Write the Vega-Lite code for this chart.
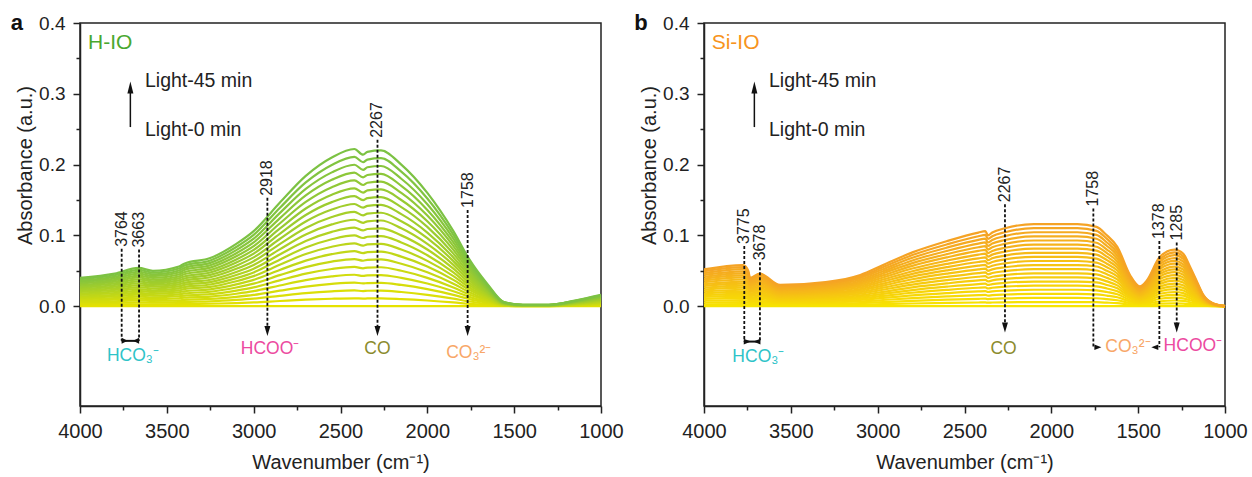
{
"$schema":"https://vega.github.io/schema/vega-lite/v6.json",
"background":"white",
"padding":{"left":10,"top":11,"right":5,"bottom":5},
"spacing":9,
"config":{
"view":{"stroke":"#222","strokeWidth":1.5},
"font":"Liberation Sans",
"axis":{"domainColor":"#222","domainWidth":1.5,"tickColor":"#222","tickWidth":1.5,"labelColor":"#222","titleColor":"#222","labelFont":"Liberation Sans","titleFont":"Liberation Sans","titleFontWeight":"normal","grid":false,"labelFlush":false,"labelOverlap":false},
"axisX":{"labelFontSize":20,"titleFontSize":20,"labelPadding":8,"titlePadding":11},
"axisY":{"labelFontSize":19,"titleFontSize":20,"labelPadding":8,"titlePadding":3,"titleY":142}
},
"resolve":{"scale":{"x":"independent","y":"independent","stroke":"independent","color":"independent"}},
"datasets":{
"aL":[
{"k":0,"x":4000,"y":0},{"k":0,"x":1000,"y":0},
{"k":1,"x":4000,"y":0.002},{"k":1,"x":3800,"y":0.0023},{"k":1,"x":3663,"y":0.0027},{"k":1,"x":3580,"y":0.0025},{"k":1,"x":3430,"y":0.0028},{"k":1,"x":3400,"y":0.003},{"k":1,"x":3250,"y":0.0034},{"k":1,"x":3100,"y":0.0044},{"k":1,"x":3000,"y":0.0053},{"k":1,"x":2850,"y":0.0073},{"k":1,"x":2700,"y":0.0092},{"k":1,"x":2550,"y":0.0105},{"k":1,"x":2420,"y":0.0111},{"k":1,"x":2370,"y":0.0107},{"k":1,"x":2345,"y":0.0109},{"k":1,"x":2267,"y":0.011},{"k":1,"x":2150,"y":0.01},{"k":1,"x":2000,"y":0.008},{"k":1,"x":1850,"y":0.0053},{"k":1,"x":1758,"y":0.0033},{"k":1,"x":1650,"y":0.0015},{"k":1,"x":1560,"y":0.0003},{"k":1,"x":1450,"y":0.0001},{"k":1,"x":1300,"y":0.0001},{"k":1,"x":1150,"y":0.0004},{"k":1,"x":1000,"y":0.0008},
{"k":2,"x":4000,"y":0.004},{"k":2,"x":3800,"y":0.0046},{"k":2,"x":3663,"y":0.0054},{"k":2,"x":3580,"y":0.005},{"k":2,"x":3430,"y":0.0056},{"k":2,"x":3400,"y":0.006},{"k":2,"x":3250,"y":0.0068},{"k":2,"x":3100,"y":0.0088},{"k":2,"x":3000,"y":0.0106},{"k":2,"x":2850,"y":0.0146},{"k":2,"x":2700,"y":0.0184},{"k":2,"x":2550,"y":0.021},{"k":2,"x":2420,"y":0.0222},{"k":2,"x":2370,"y":0.0214},{"k":2,"x":2345,"y":0.0218},{"k":2,"x":2267,"y":0.022},{"k":2,"x":2150,"y":0.02},{"k":2,"x":2000,"y":0.016},{"k":2,"x":1850,"y":0.0106},{"k":2,"x":1758,"y":0.0066},{"k":2,"x":1650,"y":0.003},{"k":2,"x":1560,"y":0.0006},{"k":2,"x":1450,"y":0.0002},{"k":2,"x":1300,"y":0.0002},{"k":2,"x":1150,"y":0.0008},{"k":2,"x":1000,"y":0.0016},
{"k":3,"x":4000,"y":0.006},{"k":3,"x":3800,"y":0.0069},{"k":3,"x":3663,"y":0.0081},{"k":3,"x":3580,"y":0.0075},{"k":3,"x":3430,"y":0.0084},{"k":3,"x":3400,"y":0.009},{"k":3,"x":3250,"y":0.0102},{"k":3,"x":3100,"y":0.0132},{"k":3,"x":3000,"y":0.0159},{"k":3,"x":2850,"y":0.0219},{"k":3,"x":2700,"y":0.0276},{"k":3,"x":2550,"y":0.0315},{"k":3,"x":2420,"y":0.0333},{"k":3,"x":2370,"y":0.0321},{"k":3,"x":2345,"y":0.0327},{"k":3,"x":2267,"y":0.033},{"k":3,"x":2150,"y":0.03},{"k":3,"x":2000,"y":0.024},{"k":3,"x":1850,"y":0.0159},{"k":3,"x":1758,"y":0.0099},{"k":3,"x":1650,"y":0.0045},{"k":3,"x":1560,"y":0.0009},{"k":3,"x":1450,"y":0.0003},{"k":3,"x":1300,"y":0.0003},{"k":3,"x":1150,"y":0.0012},{"k":3,"x":1000,"y":0.0024},
{"k":4,"x":4000,"y":0.008},{"k":4,"x":3800,"y":0.0092},{"k":4,"x":3663,"y":0.0108},{"k":4,"x":3580,"y":0.01},{"k":4,"x":3430,"y":0.0112},{"k":4,"x":3400,"y":0.012},{"k":4,"x":3250,"y":0.0136},{"k":4,"x":3100,"y":0.0176},{"k":4,"x":3000,"y":0.0212},{"k":4,"x":2850,"y":0.0292},{"k":4,"x":2700,"y":0.0368},{"k":4,"x":2550,"y":0.042},{"k":4,"x":2420,"y":0.0444},{"k":4,"x":2370,"y":0.0428},{"k":4,"x":2345,"y":0.0436},{"k":4,"x":2267,"y":0.044},{"k":4,"x":2150,"y":0.04},{"k":4,"x":2000,"y":0.032},{"k":4,"x":1850,"y":0.0212},{"k":4,"x":1758,"y":0.0132},{"k":4,"x":1650,"y":0.006},{"k":4,"x":1560,"y":0.0012},{"k":4,"x":1450,"y":0.0004},{"k":4,"x":1300,"y":0.0004},{"k":4,"x":1150,"y":0.0016},{"k":4,"x":1000,"y":0.0032},
{"k":5,"x":4000,"y":0.01},{"k":5,"x":3800,"y":0.0115},{"k":5,"x":3663,"y":0.0135},{"k":5,"x":3580,"y":0.0125},{"k":5,"x":3430,"y":0.014},{"k":5,"x":3400,"y":0.015},{"k":5,"x":3250,"y":0.017},{"k":5,"x":3100,"y":0.022},{"k":5,"x":3000,"y":0.0265},{"k":5,"x":2850,"y":0.0365},{"k":5,"x":2700,"y":0.046},{"k":5,"x":2550,"y":0.0525},{"k":5,"x":2420,"y":0.0555},{"k":5,"x":2370,"y":0.0535},{"k":5,"x":2345,"y":0.0545},{"k":5,"x":2267,"y":0.055},{"k":5,"x":2150,"y":0.05},{"k":5,"x":2000,"y":0.04},{"k":5,"x":1850,"y":0.0265},{"k":5,"x":1758,"y":0.0165},{"k":5,"x":1650,"y":0.0075},{"k":5,"x":1560,"y":0.0015},{"k":5,"x":1450,"y":0.0005},{"k":5,"x":1300,"y":0.0005},{"k":5,"x":1150,"y":0.002},{"k":5,"x":1000,"y":0.004},
{"k":6,"x":4000,"y":0.012},{"k":6,"x":3800,"y":0.0138},{"k":6,"x":3663,"y":0.0162},{"k":6,"x":3580,"y":0.015},{"k":6,"x":3430,"y":0.0168},{"k":6,"x":3400,"y":0.018},{"k":6,"x":3250,"y":0.0204},{"k":6,"x":3100,"y":0.0264},{"k":6,"x":3000,"y":0.0318},{"k":6,"x":2850,"y":0.0438},{"k":6,"x":2700,"y":0.0552},{"k":6,"x":2550,"y":0.063},{"k":6,"x":2420,"y":0.0666},{"k":6,"x":2370,"y":0.0642},{"k":6,"x":2345,"y":0.0654},{"k":6,"x":2267,"y":0.066},{"k":6,"x":2150,"y":0.06},{"k":6,"x":2000,"y":0.048},{"k":6,"x":1850,"y":0.0318},{"k":6,"x":1758,"y":0.0198},{"k":6,"x":1650,"y":0.009},{"k":6,"x":1560,"y":0.0018},{"k":6,"x":1450,"y":0.0006},{"k":6,"x":1300,"y":0.0006},{"k":6,"x":1150,"y":0.0024},{"k":6,"x":1000,"y":0.0048},
{"k":7,"x":4000,"y":0.014},{"k":7,"x":3800,"y":0.0161},{"k":7,"x":3663,"y":0.0189},{"k":7,"x":3580,"y":0.0175},{"k":7,"x":3430,"y":0.0196},{"k":7,"x":3400,"y":0.021},{"k":7,"x":3250,"y":0.0238},{"k":7,"x":3100,"y":0.0308},{"k":7,"x":3000,"y":0.0371},{"k":7,"x":2850,"y":0.0511},{"k":7,"x":2700,"y":0.0644},{"k":7,"x":2550,"y":0.0735},{"k":7,"x":2420,"y":0.0777},{"k":7,"x":2370,"y":0.0749},{"k":7,"x":2345,"y":0.0763},{"k":7,"x":2267,"y":0.077},{"k":7,"x":2150,"y":0.07},{"k":7,"x":2000,"y":0.056},{"k":7,"x":1850,"y":0.0371},{"k":7,"x":1758,"y":0.0231},{"k":7,"x":1650,"y":0.0105},{"k":7,"x":1560,"y":0.0021},{"k":7,"x":1450,"y":0.0007},{"k":7,"x":1300,"y":0.0007},{"k":7,"x":1150,"y":0.0028},{"k":7,"x":1000,"y":0.0056},
{"k":8,"x":4000,"y":0.016},{"k":8,"x":3800,"y":0.0184},{"k":8,"x":3663,"y":0.0216},{"k":8,"x":3580,"y":0.02},{"k":8,"x":3430,"y":0.0224},{"k":8,"x":3400,"y":0.024},{"k":8,"x":3250,"y":0.0272},{"k":8,"x":3100,"y":0.0352},{"k":8,"x":3000,"y":0.0424},{"k":8,"x":2850,"y":0.0584},{"k":8,"x":2700,"y":0.0736},{"k":8,"x":2550,"y":0.084},{"k":8,"x":2420,"y":0.0888},{"k":8,"x":2370,"y":0.0856},{"k":8,"x":2345,"y":0.0872},{"k":8,"x":2267,"y":0.088},{"k":8,"x":2150,"y":0.08},{"k":8,"x":2000,"y":0.064},{"k":8,"x":1850,"y":0.0424},{"k":8,"x":1758,"y":0.0264},{"k":8,"x":1650,"y":0.012},{"k":8,"x":1560,"y":0.0024},{"k":8,"x":1450,"y":0.0008},{"k":8,"x":1300,"y":0.0008},{"k":8,"x":1150,"y":0.0032},{"k":8,"x":1000,"y":0.0064},
{"k":9,"x":4000,"y":0.018},{"k":9,"x":3800,"y":0.0207},{"k":9,"x":3663,"y":0.0243},{"k":9,"x":3580,"y":0.0225},{"k":9,"x":3430,"y":0.0252},{"k":9,"x":3400,"y":0.027},{"k":9,"x":3250,"y":0.0306},{"k":9,"x":3100,"y":0.0396},{"k":9,"x":3000,"y":0.0477},{"k":9,"x":2850,"y":0.0657},{"k":9,"x":2700,"y":0.0828},{"k":9,"x":2550,"y":0.0945},{"k":9,"x":2420,"y":0.0999},{"k":9,"x":2370,"y":0.0963},{"k":9,"x":2345,"y":0.0981},{"k":9,"x":2267,"y":0.099},{"k":9,"x":2150,"y":0.09},{"k":9,"x":2000,"y":0.072},{"k":9,"x":1850,"y":0.0477},{"k":9,"x":1758,"y":0.0297},{"k":9,"x":1650,"y":0.0135},{"k":9,"x":1560,"y":0.0027},{"k":9,"x":1450,"y":0.0009},{"k":9,"x":1300,"y":0.0009},{"k":9,"x":1150,"y":0.0036},{"k":9,"x":1000,"y":0.0072},
{"k":10,"x":4000,"y":0.02},{"k":10,"x":3800,"y":0.023},{"k":10,"x":3663,"y":0.027},{"k":10,"x":3580,"y":0.025},{"k":10,"x":3430,"y":0.028},{"k":10,"x":3400,"y":0.03},{"k":10,"x":3250,"y":0.034},{"k":10,"x":3100,"y":0.044},{"k":10,"x":3000,"y":0.053},{"k":10,"x":2850,"y":0.073},{"k":10,"x":2700,"y":0.092},{"k":10,"x":2550,"y":0.105},{"k":10,"x":2420,"y":0.111},{"k":10,"x":2370,"y":0.107},{"k":10,"x":2345,"y":0.109},{"k":10,"x":2267,"y":0.11},{"k":10,"x":2150,"y":0.1},{"k":10,"x":2000,"y":0.08},{"k":10,"x":1850,"y":0.053},{"k":10,"x":1758,"y":0.033},{"k":10,"x":1650,"y":0.015},{"k":10,"x":1560,"y":0.003},{"k":10,"x":1450,"y":0.001},{"k":10,"x":1300,"y":0.001},{"k":10,"x":1150,"y":0.004},{"k":10,"x":1000,"y":0.008},
{"k":11,"x":4000,"y":0.022},{"k":11,"x":3800,"y":0.0253},{"k":11,"x":3663,"y":0.0297},{"k":11,"x":3580,"y":0.0275},{"k":11,"x":3430,"y":0.0308},{"k":11,"x":3400,"y":0.033},{"k":11,"x":3250,"y":0.0374},{"k":11,"x":3100,"y":0.0484},{"k":11,"x":3000,"y":0.0583},{"k":11,"x":2850,"y":0.0803},{"k":11,"x":2700,"y":0.1012},{"k":11,"x":2550,"y":0.1155},{"k":11,"x":2420,"y":0.1221},{"k":11,"x":2370,"y":0.1177},{"k":11,"x":2345,"y":0.1199},{"k":11,"x":2267,"y":0.121},{"k":11,"x":2150,"y":0.11},{"k":11,"x":2000,"y":0.088},{"k":11,"x":1850,"y":0.0583},{"k":11,"x":1758,"y":0.0363},{"k":11,"x":1650,"y":0.0165},{"k":11,"x":1560,"y":0.0033},{"k":11,"x":1450,"y":0.0011},{"k":11,"x":1300,"y":0.0011},{"k":11,"x":1150,"y":0.0044},{"k":11,"x":1000,"y":0.0088},
{"k":12,"x":4000,"y":0.024},{"k":12,"x":3800,"y":0.0276},{"k":12,"x":3663,"y":0.0324},{"k":12,"x":3580,"y":0.03},{"k":12,"x":3430,"y":0.0336},{"k":12,"x":3400,"y":0.036},{"k":12,"x":3250,"y":0.0408},{"k":12,"x":3100,"y":0.0528},{"k":12,"x":3000,"y":0.0636},{"k":12,"x":2850,"y":0.0876},{"k":12,"x":2700,"y":0.1104},{"k":12,"x":2550,"y":0.126},{"k":12,"x":2420,"y":0.1332},{"k":12,"x":2370,"y":0.1284},{"k":12,"x":2345,"y":0.1308},{"k":12,"x":2267,"y":0.132},{"k":12,"x":2150,"y":0.12},{"k":12,"x":2000,"y":0.096},{"k":12,"x":1850,"y":0.0636},{"k":12,"x":1758,"y":0.0396},{"k":12,"x":1650,"y":0.018},{"k":12,"x":1560,"y":0.0036},{"k":12,"x":1450,"y":0.0012},{"k":12,"x":1300,"y":0.0012},{"k":12,"x":1150,"y":0.0048},{"k":12,"x":1000,"y":0.0096},
{"k":13,"x":4000,"y":0.026},{"k":13,"x":3800,"y":0.0299},{"k":13,"x":3663,"y":0.0351},{"k":13,"x":3580,"y":0.0325},{"k":13,"x":3430,"y":0.0364},{"k":13,"x":3400,"y":0.039},{"k":13,"x":3250,"y":0.0442},{"k":13,"x":3100,"y":0.0572},{"k":13,"x":3000,"y":0.0689},{"k":13,"x":2850,"y":0.0949},{"k":13,"x":2700,"y":0.1196},{"k":13,"x":2550,"y":0.1365},{"k":13,"x":2420,"y":0.1443},{"k":13,"x":2370,"y":0.1391},{"k":13,"x":2345,"y":0.1417},{"k":13,"x":2267,"y":0.143},{"k":13,"x":2150,"y":0.13},{"k":13,"x":2000,"y":0.104},{"k":13,"x":1850,"y":0.0689},{"k":13,"x":1758,"y":0.0429},{"k":13,"x":1650,"y":0.0195},{"k":13,"x":1560,"y":0.0039},{"k":13,"x":1450,"y":0.0013},{"k":13,"x":1300,"y":0.0013},{"k":13,"x":1150,"y":0.0052},{"k":13,"x":1000,"y":0.0104},
{"k":14,"x":4000,"y":0.028},{"k":14,"x":3800,"y":0.0322},{"k":14,"x":3663,"y":0.0378},{"k":14,"x":3580,"y":0.035},{"k":14,"x":3430,"y":0.0392},{"k":14,"x":3400,"y":0.042},{"k":14,"x":3250,"y":0.0476},{"k":14,"x":3100,"y":0.0616},{"k":14,"x":3000,"y":0.0742},{"k":14,"x":2850,"y":0.1022},{"k":14,"x":2700,"y":0.1288},{"k":14,"x":2550,"y":0.147},{"k":14,"x":2420,"y":0.1554},{"k":14,"x":2370,"y":0.1498},{"k":14,"x":2345,"y":0.1526},{"k":14,"x":2267,"y":0.154},{"k":14,"x":2150,"y":0.14},{"k":14,"x":2000,"y":0.112},{"k":14,"x":1850,"y":0.0742},{"k":14,"x":1758,"y":0.0462},{"k":14,"x":1650,"y":0.021},{"k":14,"x":1560,"y":0.0042},{"k":14,"x":1450,"y":0.0014},{"k":14,"x":1300,"y":0.0014},{"k":14,"x":1150,"y":0.0056},{"k":14,"x":1000,"y":0.0112},
{"k":15,"x":4000,"y":0.03},{"k":15,"x":3800,"y":0.0345},{"k":15,"x":3663,"y":0.0405},{"k":15,"x":3580,"y":0.0375},{"k":15,"x":3430,"y":0.042},{"k":15,"x":3400,"y":0.045},{"k":15,"x":3250,"y":0.051},{"k":15,"x":3100,"y":0.066},{"k":15,"x":3000,"y":0.0795},{"k":15,"x":2850,"y":0.1095},{"k":15,"x":2700,"y":0.138},{"k":15,"x":2550,"y":0.1575},{"k":15,"x":2420,"y":0.1665},{"k":15,"x":2370,"y":0.1605},{"k":15,"x":2345,"y":0.1635},{"k":15,"x":2267,"y":0.165},{"k":15,"x":2150,"y":0.15},{"k":15,"x":2000,"y":0.12},{"k":15,"x":1850,"y":0.0795},{"k":15,"x":1758,"y":0.0495},{"k":15,"x":1650,"y":0.0225},{"k":15,"x":1560,"y":0.0045},{"k":15,"x":1450,"y":0.0015},{"k":15,"x":1300,"y":0.0015},{"k":15,"x":1150,"y":0.006},{"k":15,"x":1000,"y":0.012},
{"k":16,"x":4000,"y":0.032},{"k":16,"x":3800,"y":0.0368},{"k":16,"x":3663,"y":0.0432},{"k":16,"x":3580,"y":0.04},{"k":16,"x":3430,"y":0.0448},{"k":16,"x":3400,"y":0.048},{"k":16,"x":3250,"y":0.0544},{"k":16,"x":3100,"y":0.0704},{"k":16,"x":3000,"y":0.0848},{"k":16,"x":2850,"y":0.1168},{"k":16,"x":2700,"y":0.1472},{"k":16,"x":2550,"y":0.168},{"k":16,"x":2420,"y":0.1776},{"k":16,"x":2370,"y":0.1712},{"k":16,"x":2345,"y":0.1744},{"k":16,"x":2267,"y":0.176},{"k":16,"x":2150,"y":0.16},{"k":16,"x":2000,"y":0.128},{"k":16,"x":1850,"y":0.0848},{"k":16,"x":1758,"y":0.0528},{"k":16,"x":1650,"y":0.024},{"k":16,"x":1560,"y":0.0048},{"k":16,"x":1450,"y":0.0016},{"k":16,"x":1300,"y":0.0016},{"k":16,"x":1150,"y":0.0064},{"k":16,"x":1000,"y":0.0128},
{"k":17,"x":4000,"y":0.034},{"k":17,"x":3800,"y":0.0391},{"k":17,"x":3663,"y":0.0459},{"k":17,"x":3580,"y":0.0425},{"k":17,"x":3430,"y":0.0476},{"k":17,"x":3400,"y":0.051},{"k":17,"x":3250,"y":0.0578},{"k":17,"x":3100,"y":0.0748},{"k":17,"x":3000,"y":0.0901},{"k":17,"x":2850,"y":0.1241},{"k":17,"x":2700,"y":0.1564},{"k":17,"x":2550,"y":0.1785},{"k":17,"x":2420,"y":0.1887},{"k":17,"x":2370,"y":0.1819},{"k":17,"x":2345,"y":0.1853},{"k":17,"x":2267,"y":0.187},{"k":17,"x":2150,"y":0.17},{"k":17,"x":2000,"y":0.136},{"k":17,"x":1850,"y":0.0901},{"k":17,"x":1758,"y":0.0561},{"k":17,"x":1650,"y":0.0255},{"k":17,"x":1560,"y":0.0051},{"k":17,"x":1450,"y":0.0017},{"k":17,"x":1300,"y":0.0017},{"k":17,"x":1150,"y":0.0068},{"k":17,"x":1000,"y":0.0136},
{"k":18,"x":4000,"y":0.036},{"k":18,"x":3800,"y":0.0414},{"k":18,"x":3663,"y":0.0486},{"k":18,"x":3580,"y":0.045},{"k":18,"x":3430,"y":0.0504},{"k":18,"x":3400,"y":0.054},{"k":18,"x":3250,"y":0.0612},{"k":18,"x":3100,"y":0.0792},{"k":18,"x":3000,"y":0.0954},{"k":18,"x":2850,"y":0.1314},{"k":18,"x":2700,"y":0.1656},{"k":18,"x":2550,"y":0.189},{"k":18,"x":2420,"y":0.1998},{"k":18,"x":2370,"y":0.1926},{"k":18,"x":2345,"y":0.1962},{"k":18,"x":2267,"y":0.198},{"k":18,"x":2150,"y":0.18},{"k":18,"x":2000,"y":0.144},{"k":18,"x":1850,"y":0.0954},{"k":18,"x":1758,"y":0.0594},{"k":18,"x":1650,"y":0.027},{"k":18,"x":1560,"y":0.0054},{"k":18,"x":1450,"y":0.0018},{"k":18,"x":1300,"y":0.0018},{"k":18,"x":1150,"y":0.0072},{"k":18,"x":1000,"y":0.0144},
{"k":19,"x":4000,"y":0.038},{"k":19,"x":3800,"y":0.0437},{"k":19,"x":3663,"y":0.0513},{"k":19,"x":3580,"y":0.0475},{"k":19,"x":3430,"y":0.0532},{"k":19,"x":3400,"y":0.057},{"k":19,"x":3250,"y":0.0646},{"k":19,"x":3100,"y":0.0836},{"k":19,"x":3000,"y":0.1007},{"k":19,"x":2850,"y":0.1387},{"k":19,"x":2700,"y":0.1748},{"k":19,"x":2550,"y":0.1995},{"k":19,"x":2420,"y":0.2109},{"k":19,"x":2370,"y":0.2033},{"k":19,"x":2345,"y":0.2071},{"k":19,"x":2267,"y":0.209},{"k":19,"x":2150,"y":0.19},{"k":19,"x":2000,"y":0.152},{"k":19,"x":1850,"y":0.1007},{"k":19,"x":1758,"y":0.0627},{"k":19,"x":1650,"y":0.0285},{"k":19,"x":1560,"y":0.0057},{"k":19,"x":1450,"y":0.0019},{"k":19,"x":1300,"y":0.0019},{"k":19,"x":1150,"y":0.0076},{"k":19,"x":1000,"y":0.0152},
{"k":20,"x":4000,"y":0.04},{"k":20,"x":3800,"y":0.046},{"k":20,"x":3663,"y":0.054},{"k":20,"x":3580,"y":0.05},{"k":20,"x":3430,"y":0.056},{"k":20,"x":3400,"y":0.06},{"k":20,"x":3250,"y":0.068},{"k":20,"x":3100,"y":0.088},{"k":20,"x":3000,"y":0.106},{"k":20,"x":2850,"y":0.146},{"k":20,"x":2700,"y":0.184},{"k":20,"x":2550,"y":0.21},{"k":20,"x":2420,"y":0.222},{"k":20,"x":2370,"y":0.214},{"k":20,"x":2345,"y":0.218},{"k":20,"x":2267,"y":0.22},{"k":20,"x":2150,"y":0.2},{"k":20,"x":2000,"y":0.16},{"k":20,"x":1850,"y":0.106},{"k":20,"x":1758,"y":0.066},{"k":20,"x":1650,"y":0.03},{"k":20,"x":1560,"y":0.006},{"k":20,"x":1450,"y":0.002},{"k":20,"x":1300,"y":0.002},{"k":20,"x":1150,"y":0.008},{"k":20,"x":1000,"y":0.016}
],
"bL":[
{"k":0,"x":4000,"y":0},{"k":0,"x":1000,"y":0},
{"k":1,"x":4000,"y":0.0026},{"k":1,"x":3775,"y":0.0029},{"k":1,"x":3745,"y":0.0025},{"k":1,"x":3735,"y":0.002},{"k":1,"x":3678,"y":0.0023},{"k":1,"x":3562,"y":0.0015},{"k":1,"x":3300,"y":0.0017},{"k":1,"x":3100,"y":0.0022},{"k":1,"x":2969,"y":0.0029},{"k":1,"x":2800,"y":0.0038},{"k":1,"x":2600,"y":0.0046},{"k":1,"x":2420,"y":0.0052},{"k":1,"x":2380,"y":0.0053},{"k":1,"x":2365,"y":0.005},{"k":1,"x":2340,"y":0.0052},{"k":1,"x":2267,"y":0.0055},{"k":1,"x":2100,"y":0.0058},{"k":1,"x":1850,"y":0.0058},{"k":1,"x":1740,"y":0.0056},{"k":1,"x":1680,"y":0.005},{"k":1,"x":1620,"y":0.0042},{"k":1,"x":1547,"y":0.0022},{"k":1,"x":1490,"y":0.0014},{"k":1,"x":1451,"y":0.0018},{"k":1,"x":1374,"y":0.0035},{"k":1,"x":1290,"y":0.004},{"k":1,"x":1240,"y":0.0037},{"k":1,"x":1202,"y":0.0028},{"k":1,"x":1160,"y":0.0017},{"k":1,"x":1125,"y":0.0008},{"k":1,"x":1070,"y":0.0002},{"k":1,"x":1000,"y":0},
{"k":2,"x":4000,"y":0.0052},{"k":2,"x":3775,"y":0.0058},{"k":2,"x":3745,"y":0.005},{"k":2,"x":3735,"y":0.004},{"k":2,"x":3678,"y":0.0046},{"k":2,"x":3562,"y":0.003},{"k":2,"x":3300,"y":0.0034},{"k":2,"x":3100,"y":0.0044},{"k":2,"x":2969,"y":0.0058},{"k":2,"x":2800,"y":0.0076},{"k":2,"x":2600,"y":0.0092},{"k":2,"x":2420,"y":0.0104},{"k":2,"x":2380,"y":0.0106},{"k":2,"x":2365,"y":0.01},{"k":2,"x":2340,"y":0.0104},{"k":2,"x":2267,"y":0.011},{"k":2,"x":2100,"y":0.0116},{"k":2,"x":1850,"y":0.0116},{"k":2,"x":1740,"y":0.0112},{"k":2,"x":1680,"y":0.01},{"k":2,"x":1620,"y":0.0084},{"k":2,"x":1547,"y":0.0044},{"k":2,"x":1490,"y":0.0028},{"k":2,"x":1451,"y":0.0036},{"k":2,"x":1374,"y":0.007},{"k":2,"x":1290,"y":0.008},{"k":2,"x":1240,"y":0.0074},{"k":2,"x":1202,"y":0.0056},{"k":2,"x":1160,"y":0.0034},{"k":2,"x":1125,"y":0.0016},{"k":2,"x":1070,"y":0.0004},{"k":2,"x":1000,"y":0},
{"k":3,"x":4000,"y":0.0078},{"k":3,"x":3775,"y":0.0087},{"k":3,"x":3745,"y":0.0075},{"k":3,"x":3735,"y":0.006},{"k":3,"x":3678,"y":0.0069},{"k":3,"x":3562,"y":0.0045},{"k":3,"x":3300,"y":0.0051},{"k":3,"x":3100,"y":0.0066},{"k":3,"x":2969,"y":0.0087},{"k":3,"x":2800,"y":0.0114},{"k":3,"x":2600,"y":0.0138},{"k":3,"x":2420,"y":0.0156},{"k":3,"x":2380,"y":0.0159},{"k":3,"x":2365,"y":0.015},{"k":3,"x":2340,"y":0.0156},{"k":3,"x":2267,"y":0.0165},{"k":3,"x":2100,"y":0.0174},{"k":3,"x":1850,"y":0.0174},{"k":3,"x":1740,"y":0.0168},{"k":3,"x":1680,"y":0.015},{"k":3,"x":1620,"y":0.0126},{"k":3,"x":1547,"y":0.0066},{"k":3,"x":1490,"y":0.0042},{"k":3,"x":1451,"y":0.0054},{"k":3,"x":1374,"y":0.0105},{"k":3,"x":1290,"y":0.012},{"k":3,"x":1240,"y":0.0111},{"k":3,"x":1202,"y":0.0084},{"k":3,"x":1160,"y":0.0051},{"k":3,"x":1125,"y":0.0024},{"k":3,"x":1070,"y":0.0006},{"k":3,"x":1000,"y":0},
{"k":4,"x":4000,"y":0.0104},{"k":4,"x":3775,"y":0.0116},{"k":4,"x":3745,"y":0.01},{"k":4,"x":3735,"y":0.008},{"k":4,"x":3678,"y":0.0092},{"k":4,"x":3562,"y":0.006},{"k":4,"x":3300,"y":0.0068},{"k":4,"x":3100,"y":0.0088},{"k":4,"x":2969,"y":0.0116},{"k":4,"x":2800,"y":0.0152},{"k":4,"x":2600,"y":0.0184},{"k":4,"x":2420,"y":0.0208},{"k":4,"x":2380,"y":0.0212},{"k":4,"x":2365,"y":0.02},{"k":4,"x":2340,"y":0.0208},{"k":4,"x":2267,"y":0.022},{"k":4,"x":2100,"y":0.0232},{"k":4,"x":1850,"y":0.0232},{"k":4,"x":1740,"y":0.0224},{"k":4,"x":1680,"y":0.02},{"k":4,"x":1620,"y":0.0168},{"k":4,"x":1547,"y":0.0088},{"k":4,"x":1490,"y":0.0056},{"k":4,"x":1451,"y":0.0072},{"k":4,"x":1374,"y":0.014},{"k":4,"x":1290,"y":0.016},{"k":4,"x":1240,"y":0.0148},{"k":4,"x":1202,"y":0.0112},{"k":4,"x":1160,"y":0.0068},{"k":4,"x":1125,"y":0.0032},{"k":4,"x":1070,"y":0.0008},{"k":4,"x":1000,"y":0},
{"k":5,"x":4000,"y":0.013},{"k":5,"x":3775,"y":0.0145},{"k":5,"x":3745,"y":0.0125},{"k":5,"x":3735,"y":0.01},{"k":5,"x":3678,"y":0.0115},{"k":5,"x":3562,"y":0.0075},{"k":5,"x":3300,"y":0.0085},{"k":5,"x":3100,"y":0.011},{"k":5,"x":2969,"y":0.0145},{"k":5,"x":2800,"y":0.019},{"k":5,"x":2600,"y":0.023},{"k":5,"x":2420,"y":0.026},{"k":5,"x":2380,"y":0.0265},{"k":5,"x":2365,"y":0.025},{"k":5,"x":2340,"y":0.026},{"k":5,"x":2267,"y":0.0275},{"k":5,"x":2100,"y":0.029},{"k":5,"x":1850,"y":0.029},{"k":5,"x":1740,"y":0.028},{"k":5,"x":1680,"y":0.025},{"k":5,"x":1620,"y":0.021},{"k":5,"x":1547,"y":0.011},{"k":5,"x":1490,"y":0.007},{"k":5,"x":1451,"y":0.009},{"k":5,"x":1374,"y":0.0175},{"k":5,"x":1290,"y":0.02},{"k":5,"x":1240,"y":0.0185},{"k":5,"x":1202,"y":0.014},{"k":5,"x":1160,"y":0.0085},{"k":5,"x":1125,"y":0.004},{"k":5,"x":1070,"y":0.001},{"k":5,"x":1000,"y":0},
{"k":6,"x":4000,"y":0.0156},{"k":6,"x":3775,"y":0.0174},{"k":6,"x":3745,"y":0.015},{"k":6,"x":3735,"y":0.012},{"k":6,"x":3678,"y":0.0138},{"k":6,"x":3562,"y":0.009},{"k":6,"x":3300,"y":0.0102},{"k":6,"x":3100,"y":0.0132},{"k":6,"x":2969,"y":0.0174},{"k":6,"x":2800,"y":0.0228},{"k":6,"x":2600,"y":0.0276},{"k":6,"x":2420,"y":0.0312},{"k":6,"x":2380,"y":0.0318},{"k":6,"x":2365,"y":0.03},{"k":6,"x":2340,"y":0.0312},{"k":6,"x":2267,"y":0.033},{"k":6,"x":2100,"y":0.0348},{"k":6,"x":1850,"y":0.0348},{"k":6,"x":1740,"y":0.0336},{"k":6,"x":1680,"y":0.03},{"k":6,"x":1620,"y":0.0252},{"k":6,"x":1547,"y":0.0132},{"k":6,"x":1490,"y":0.0084},{"k":6,"x":1451,"y":0.0108},{"k":6,"x":1374,"y":0.021},{"k":6,"x":1290,"y":0.024},{"k":6,"x":1240,"y":0.0222},{"k":6,"x":1202,"y":0.0168},{"k":6,"x":1160,"y":0.0102},{"k":6,"x":1125,"y":0.0048},{"k":6,"x":1070,"y":0.0012},{"k":6,"x":1000,"y":0},
{"k":7,"x":4000,"y":0.0182},{"k":7,"x":3775,"y":0.0203},{"k":7,"x":3745,"y":0.0175},{"k":7,"x":3735,"y":0.014},{"k":7,"x":3678,"y":0.0161},{"k":7,"x":3562,"y":0.0105},{"k":7,"x":3300,"y":0.0119},{"k":7,"x":3100,"y":0.0154},{"k":7,"x":2969,"y":0.0203},{"k":7,"x":2800,"y":0.0266},{"k":7,"x":2600,"y":0.0322},{"k":7,"x":2420,"y":0.0364},{"k":7,"x":2380,"y":0.0371},{"k":7,"x":2365,"y":0.035},{"k":7,"x":2340,"y":0.0364},{"k":7,"x":2267,"y":0.0385},{"k":7,"x":2100,"y":0.0406},{"k":7,"x":1850,"y":0.0406},{"k":7,"x":1740,"y":0.0392},{"k":7,"x":1680,"y":0.035},{"k":7,"x":1620,"y":0.0294},{"k":7,"x":1547,"y":0.0154},{"k":7,"x":1490,"y":0.0098},{"k":7,"x":1451,"y":0.0126},{"k":7,"x":1374,"y":0.0245},{"k":7,"x":1290,"y":0.028},{"k":7,"x":1240,"y":0.0259},{"k":7,"x":1202,"y":0.0196},{"k":7,"x":1160,"y":0.0119},{"k":7,"x":1125,"y":0.0056},{"k":7,"x":1070,"y":0.0014},{"k":7,"x":1000,"y":0},
{"k":8,"x":4000,"y":0.0208},{"k":8,"x":3775,"y":0.0232},{"k":8,"x":3745,"y":0.02},{"k":8,"x":3735,"y":0.016},{"k":8,"x":3678,"y":0.0184},{"k":8,"x":3562,"y":0.012},{"k":8,"x":3300,"y":0.0136},{"k":8,"x":3100,"y":0.0176},{"k":8,"x":2969,"y":0.0232},{"k":8,"x":2800,"y":0.0304},{"k":8,"x":2600,"y":0.0368},{"k":8,"x":2420,"y":0.0416},{"k":8,"x":2380,"y":0.0424},{"k":8,"x":2365,"y":0.04},{"k":8,"x":2340,"y":0.0416},{"k":8,"x":2267,"y":0.044},{"k":8,"x":2100,"y":0.0464},{"k":8,"x":1850,"y":0.0464},{"k":8,"x":1740,"y":0.0448},{"k":8,"x":1680,"y":0.04},{"k":8,"x":1620,"y":0.0336},{"k":8,"x":1547,"y":0.0176},{"k":8,"x":1490,"y":0.0112},{"k":8,"x":1451,"y":0.0144},{"k":8,"x":1374,"y":0.028},{"k":8,"x":1290,"y":0.032},{"k":8,"x":1240,"y":0.0296},{"k":8,"x":1202,"y":0.0224},{"k":8,"x":1160,"y":0.0136},{"k":8,"x":1125,"y":0.0064},{"k":8,"x":1070,"y":0.0016},{"k":8,"x":1000,"y":0},
{"k":9,"x":4000,"y":0.0234},{"k":9,"x":3775,"y":0.0261},{"k":9,"x":3745,"y":0.0225},{"k":9,"x":3735,"y":0.018},{"k":9,"x":3678,"y":0.0207},{"k":9,"x":3562,"y":0.0135},{"k":9,"x":3300,"y":0.0153},{"k":9,"x":3100,"y":0.0198},{"k":9,"x":2969,"y":0.0261},{"k":9,"x":2800,"y":0.0342},{"k":9,"x":2600,"y":0.0414},{"k":9,"x":2420,"y":0.0468},{"k":9,"x":2380,"y":0.0477},{"k":9,"x":2365,"y":0.045},{"k":9,"x":2340,"y":0.0468},{"k":9,"x":2267,"y":0.0495},{"k":9,"x":2100,"y":0.0522},{"k":9,"x":1850,"y":0.0522},{"k":9,"x":1740,"y":0.0504},{"k":9,"x":1680,"y":0.045},{"k":9,"x":1620,"y":0.0378},{"k":9,"x":1547,"y":0.0198},{"k":9,"x":1490,"y":0.0126},{"k":9,"x":1451,"y":0.0162},{"k":9,"x":1374,"y":0.0315},{"k":9,"x":1290,"y":0.036},{"k":9,"x":1240,"y":0.0333},{"k":9,"x":1202,"y":0.0252},{"k":9,"x":1160,"y":0.0153},{"k":9,"x":1125,"y":0.0072},{"k":9,"x":1070,"y":0.0018},{"k":9,"x":1000,"y":0},
{"k":10,"x":4000,"y":0.026},{"k":10,"x":3775,"y":0.029},{"k":10,"x":3745,"y":0.025},{"k":10,"x":3735,"y":0.02},{"k":10,"x":3678,"y":0.023},{"k":10,"x":3562,"y":0.015},{"k":10,"x":3300,"y":0.017},{"k":10,"x":3100,"y":0.022},{"k":10,"x":2969,"y":0.029},{"k":10,"x":2800,"y":0.038},{"k":10,"x":2600,"y":0.046},{"k":10,"x":2420,"y":0.052},{"k":10,"x":2380,"y":0.053},{"k":10,"x":2365,"y":0.05},{"k":10,"x":2340,"y":0.052},{"k":10,"x":2267,"y":0.055},{"k":10,"x":2100,"y":0.058},{"k":10,"x":1850,"y":0.058},{"k":10,"x":1740,"y":0.056},{"k":10,"x":1680,"y":0.05},{"k":10,"x":1620,"y":0.042},{"k":10,"x":1547,"y":0.022},{"k":10,"x":1490,"y":0.014},{"k":10,"x":1451,"y":0.018},{"k":10,"x":1374,"y":0.035},{"k":10,"x":1290,"y":0.04},{"k":10,"x":1240,"y":0.037},{"k":10,"x":1202,"y":0.028},{"k":10,"x":1160,"y":0.017},{"k":10,"x":1125,"y":0.008},{"k":10,"x":1070,"y":0.002},{"k":10,"x":1000,"y":0},
{"k":11,"x":4000,"y":0.0286},{"k":11,"x":3775,"y":0.0319},{"k":11,"x":3745,"y":0.0275},{"k":11,"x":3735,"y":0.022},{"k":11,"x":3678,"y":0.0253},{"k":11,"x":3562,"y":0.0165},{"k":11,"x":3300,"y":0.0187},{"k":11,"x":3100,"y":0.0242},{"k":11,"x":2969,"y":0.0319},{"k":11,"x":2800,"y":0.0418},{"k":11,"x":2600,"y":0.0506},{"k":11,"x":2420,"y":0.0572},{"k":11,"x":2380,"y":0.0583},{"k":11,"x":2365,"y":0.055},{"k":11,"x":2340,"y":0.0572},{"k":11,"x":2267,"y":0.0605},{"k":11,"x":2100,"y":0.0638},{"k":11,"x":1850,"y":0.0638},{"k":11,"x":1740,"y":0.0616},{"k":11,"x":1680,"y":0.055},{"k":11,"x":1620,"y":0.0462},{"k":11,"x":1547,"y":0.0242},{"k":11,"x":1490,"y":0.0154},{"k":11,"x":1451,"y":0.0198},{"k":11,"x":1374,"y":0.0385},{"k":11,"x":1290,"y":0.044},{"k":11,"x":1240,"y":0.0407},{"k":11,"x":1202,"y":0.0308},{"k":11,"x":1160,"y":0.0187},{"k":11,"x":1125,"y":0.0088},{"k":11,"x":1070,"y":0.0022},{"k":11,"x":1000,"y":0},
{"k":12,"x":4000,"y":0.0312},{"k":12,"x":3775,"y":0.0348},{"k":12,"x":3745,"y":0.03},{"k":12,"x":3735,"y":0.024},{"k":12,"x":3678,"y":0.0276},{"k":12,"x":3562,"y":0.018},{"k":12,"x":3300,"y":0.0204},{"k":12,"x":3100,"y":0.0264},{"k":12,"x":2969,"y":0.0348},{"k":12,"x":2800,"y":0.0456},{"k":12,"x":2600,"y":0.0552},{"k":12,"x":2420,"y":0.0624},{"k":12,"x":2380,"y":0.0636},{"k":12,"x":2365,"y":0.06},{"k":12,"x":2340,"y":0.0624},{"k":12,"x":2267,"y":0.066},{"k":12,"x":2100,"y":0.0696},{"k":12,"x":1850,"y":0.0696},{"k":12,"x":1740,"y":0.0672},{"k":12,"x":1680,"y":0.06},{"k":12,"x":1620,"y":0.0504},{"k":12,"x":1547,"y":0.0264},{"k":12,"x":1490,"y":0.0168},{"k":12,"x":1451,"y":0.0216},{"k":12,"x":1374,"y":0.042},{"k":12,"x":1290,"y":0.048},{"k":12,"x":1240,"y":0.0444},{"k":12,"x":1202,"y":0.0336},{"k":12,"x":1160,"y":0.0204},{"k":12,"x":1125,"y":0.0096},{"k":12,"x":1070,"y":0.0024},{"k":12,"x":1000,"y":0},
{"k":13,"x":4000,"y":0.0338},{"k":13,"x":3775,"y":0.0377},{"k":13,"x":3745,"y":0.0325},{"k":13,"x":3735,"y":0.026},{"k":13,"x":3678,"y":0.0299},{"k":13,"x":3562,"y":0.0195},{"k":13,"x":3300,"y":0.0221},{"k":13,"x":3100,"y":0.0286},{"k":13,"x":2969,"y":0.0377},{"k":13,"x":2800,"y":0.0494},{"k":13,"x":2600,"y":0.0598},{"k":13,"x":2420,"y":0.0676},{"k":13,"x":2380,"y":0.0689},{"k":13,"x":2365,"y":0.065},{"k":13,"x":2340,"y":0.0676},{"k":13,"x":2267,"y":0.0715},{"k":13,"x":2100,"y":0.0754},{"k":13,"x":1850,"y":0.0754},{"k":13,"x":1740,"y":0.0728},{"k":13,"x":1680,"y":0.065},{"k":13,"x":1620,"y":0.0546},{"k":13,"x":1547,"y":0.0286},{"k":13,"x":1490,"y":0.0182},{"k":13,"x":1451,"y":0.0234},{"k":13,"x":1374,"y":0.0455},{"k":13,"x":1290,"y":0.052},{"k":13,"x":1240,"y":0.0481},{"k":13,"x":1202,"y":0.0364},{"k":13,"x":1160,"y":0.0221},{"k":13,"x":1125,"y":0.0104},{"k":13,"x":1070,"y":0.0026},{"k":13,"x":1000,"y":0},
{"k":14,"x":4000,"y":0.0364},{"k":14,"x":3775,"y":0.0406},{"k":14,"x":3745,"y":0.035},{"k":14,"x":3735,"y":0.028},{"k":14,"x":3678,"y":0.0322},{"k":14,"x":3562,"y":0.021},{"k":14,"x":3300,"y":0.0238},{"k":14,"x":3100,"y":0.0308},{"k":14,"x":2969,"y":0.0406},{"k":14,"x":2800,"y":0.0532},{"k":14,"x":2600,"y":0.0644},{"k":14,"x":2420,"y":0.0728},{"k":14,"x":2380,"y":0.0742},{"k":14,"x":2365,"y":0.07},{"k":14,"x":2340,"y":0.0728},{"k":14,"x":2267,"y":0.077},{"k":14,"x":2100,"y":0.0812},{"k":14,"x":1850,"y":0.0812},{"k":14,"x":1740,"y":0.0784},{"k":14,"x":1680,"y":0.07},{"k":14,"x":1620,"y":0.0588},{"k":14,"x":1547,"y":0.0308},{"k":14,"x":1490,"y":0.0196},{"k":14,"x":1451,"y":0.0252},{"k":14,"x":1374,"y":0.049},{"k":14,"x":1290,"y":0.056},{"k":14,"x":1240,"y":0.0518},{"k":14,"x":1202,"y":0.0392},{"k":14,"x":1160,"y":0.0238},{"k":14,"x":1125,"y":0.0112},{"k":14,"x":1070,"y":0.0028},{"k":14,"x":1000,"y":0},
{"k":15,"x":4000,"y":0.039},{"k":15,"x":3775,"y":0.0435},{"k":15,"x":3745,"y":0.0375},{"k":15,"x":3735,"y":0.03},{"k":15,"x":3678,"y":0.0345},{"k":15,"x":3562,"y":0.0225},{"k":15,"x":3300,"y":0.0255},{"k":15,"x":3100,"y":0.033},{"k":15,"x":2969,"y":0.0435},{"k":15,"x":2800,"y":0.057},{"k":15,"x":2600,"y":0.069},{"k":15,"x":2420,"y":0.078},{"k":15,"x":2380,"y":0.0795},{"k":15,"x":2365,"y":0.075},{"k":15,"x":2340,"y":0.078},{"k":15,"x":2267,"y":0.0825},{"k":15,"x":2100,"y":0.087},{"k":15,"x":1850,"y":0.087},{"k":15,"x":1740,"y":0.084},{"k":15,"x":1680,"y":0.075},{"k":15,"x":1620,"y":0.063},{"k":15,"x":1547,"y":0.033},{"k":15,"x":1490,"y":0.021},{"k":15,"x":1451,"y":0.027},{"k":15,"x":1374,"y":0.0525},{"k":15,"x":1290,"y":0.06},{"k":15,"x":1240,"y":0.0555},{"k":15,"x":1202,"y":0.042},{"k":15,"x":1160,"y":0.0255},{"k":15,"x":1125,"y":0.012},{"k":15,"x":1070,"y":0.003},{"k":15,"x":1000,"y":0},
{"k":16,"x":4000,"y":0.0416},{"k":16,"x":3775,"y":0.0464},{"k":16,"x":3745,"y":0.04},{"k":16,"x":3735,"y":0.032},{"k":16,"x":3678,"y":0.0368},{"k":16,"x":3562,"y":0.024},{"k":16,"x":3300,"y":0.0272},{"k":16,"x":3100,"y":0.0352},{"k":16,"x":2969,"y":0.0464},{"k":16,"x":2800,"y":0.0608},{"k":16,"x":2600,"y":0.0736},{"k":16,"x":2420,"y":0.0832},{"k":16,"x":2380,"y":0.0848},{"k":16,"x":2365,"y":0.08},{"k":16,"x":2340,"y":0.0832},{"k":16,"x":2267,"y":0.088},{"k":16,"x":2100,"y":0.0928},{"k":16,"x":1850,"y":0.0928},{"k":16,"x":1740,"y":0.0896},{"k":16,"x":1680,"y":0.08},{"k":16,"x":1620,"y":0.0672},{"k":16,"x":1547,"y":0.0352},{"k":16,"x":1490,"y":0.0224},{"k":16,"x":1451,"y":0.0288},{"k":16,"x":1374,"y":0.056},{"k":16,"x":1290,"y":0.064},{"k":16,"x":1240,"y":0.0592},{"k":16,"x":1202,"y":0.0448},{"k":16,"x":1160,"y":0.0272},{"k":16,"x":1125,"y":0.0128},{"k":16,"x":1070,"y":0.0032},{"k":16,"x":1000,"y":0},
{"k":17,"x":4000,"y":0.0442},{"k":17,"x":3775,"y":0.0493},{"k":17,"x":3745,"y":0.0425},{"k":17,"x":3735,"y":0.034},{"k":17,"x":3678,"y":0.0391},{"k":17,"x":3562,"y":0.0255},{"k":17,"x":3300,"y":0.0289},{"k":17,"x":3100,"y":0.0374},{"k":17,"x":2969,"y":0.0493},{"k":17,"x":2800,"y":0.0646},{"k":17,"x":2600,"y":0.0782},{"k":17,"x":2420,"y":0.0884},{"k":17,"x":2380,"y":0.0901},{"k":17,"x":2365,"y":0.085},{"k":17,"x":2340,"y":0.0884},{"k":17,"x":2267,"y":0.0935},{"k":17,"x":2100,"y":0.0986},{"k":17,"x":1850,"y":0.0986},{"k":17,"x":1740,"y":0.0952},{"k":17,"x":1680,"y":0.085},{"k":17,"x":1620,"y":0.0714},{"k":17,"x":1547,"y":0.0374},{"k":17,"x":1490,"y":0.0238},{"k":17,"x":1451,"y":0.0306},{"k":17,"x":1374,"y":0.0595},{"k":17,"x":1290,"y":0.068},{"k":17,"x":1240,"y":0.0629},{"k":17,"x":1202,"y":0.0476},{"k":17,"x":1160,"y":0.0289},{"k":17,"x":1125,"y":0.0136},{"k":17,"x":1070,"y":0.0034},{"k":17,"x":1000,"y":0},
{"k":18,"x":4000,"y":0.0468},{"k":18,"x":3775,"y":0.0522},{"k":18,"x":3745,"y":0.045},{"k":18,"x":3735,"y":0.036},{"k":18,"x":3678,"y":0.0414},{"k":18,"x":3562,"y":0.027},{"k":18,"x":3300,"y":0.0306},{"k":18,"x":3100,"y":0.0396},{"k":18,"x":2969,"y":0.0522},{"k":18,"x":2800,"y":0.0684},{"k":18,"x":2600,"y":0.0828},{"k":18,"x":2420,"y":0.0936},{"k":18,"x":2380,"y":0.0954},{"k":18,"x":2365,"y":0.09},{"k":18,"x":2340,"y":0.0936},{"k":18,"x":2267,"y":0.099},{"k":18,"x":2100,"y":0.1044},{"k":18,"x":1850,"y":0.1044},{"k":18,"x":1740,"y":0.1008},{"k":18,"x":1680,"y":0.09},{"k":18,"x":1620,"y":0.0756},{"k":18,"x":1547,"y":0.0396},{"k":18,"x":1490,"y":0.0252},{"k":18,"x":1451,"y":0.0324},{"k":18,"x":1374,"y":0.063},{"k":18,"x":1290,"y":0.072},{"k":18,"x":1240,"y":0.0666},{"k":18,"x":1202,"y":0.0504},{"k":18,"x":1160,"y":0.0306},{"k":18,"x":1125,"y":0.0144},{"k":18,"x":1070,"y":0.0036},{"k":18,"x":1000,"y":0},
{"k":19,"x":4000,"y":0.0494},{"k":19,"x":3775,"y":0.0551},{"k":19,"x":3745,"y":0.0475},{"k":19,"x":3735,"y":0.038},{"k":19,"x":3678,"y":0.0437},{"k":19,"x":3562,"y":0.0285},{"k":19,"x":3300,"y":0.0323},{"k":19,"x":3100,"y":0.0418},{"k":19,"x":2969,"y":0.0551},{"k":19,"x":2800,"y":0.0722},{"k":19,"x":2600,"y":0.0874},{"k":19,"x":2420,"y":0.0988},{"k":19,"x":2380,"y":0.1007},{"k":19,"x":2365,"y":0.095},{"k":19,"x":2340,"y":0.0988},{"k":19,"x":2267,"y":0.1045},{"k":19,"x":2100,"y":0.1102},{"k":19,"x":1850,"y":0.1102},{"k":19,"x":1740,"y":0.1064},{"k":19,"x":1680,"y":0.095},{"k":19,"x":1620,"y":0.0798},{"k":19,"x":1547,"y":0.0418},{"k":19,"x":1490,"y":0.0266},{"k":19,"x":1451,"y":0.0342},{"k":19,"x":1374,"y":0.0665},{"k":19,"x":1290,"y":0.076},{"k":19,"x":1240,"y":0.0703},{"k":19,"x":1202,"y":0.0532},{"k":19,"x":1160,"y":0.0323},{"k":19,"x":1125,"y":0.0152},{"k":19,"x":1070,"y":0.0038},{"k":19,"x":1000,"y":0},
{"k":20,"x":4000,"y":0.052},{"k":20,"x":3775,"y":0.058},{"k":20,"x":3745,"y":0.05},{"k":20,"x":3735,"y":0.04},{"k":20,"x":3678,"y":0.046},{"k":20,"x":3562,"y":0.03},{"k":20,"x":3300,"y":0.034},{"k":20,"x":3100,"y":0.044},{"k":20,"x":2969,"y":0.058},{"k":20,"x":2800,"y":0.076},{"k":20,"x":2600,"y":0.092},{"k":20,"x":2420,"y":0.104},{"k":20,"x":2380,"y":0.106},{"k":20,"x":2365,"y":0.1},{"k":20,"x":2340,"y":0.104},{"k":20,"x":2267,"y":0.11},{"k":20,"x":2100,"y":0.116},{"k":20,"x":1850,"y":0.116},{"k":20,"x":1740,"y":0.112},{"k":20,"x":1680,"y":0.1},{"k":20,"x":1620,"y":0.084},{"k":20,"x":1547,"y":0.044},{"k":20,"x":1490,"y":0.028},{"k":20,"x":1451,"y":0.036},{"k":20,"x":1374,"y":0.07},{"k":20,"x":1290,"y":0.08},{"k":20,"x":1240,"y":0.074},{"k":20,"x":1202,"y":0.056},{"k":20,"x":1160,"y":0.034},{"k":20,"x":1125,"y":0.016},{"k":20,"x":1070,"y":0.004},{"k":20,"x":1000,"y":0}
],
"aDash":[{"x":3760,"y":0.081,"y2":-0.049,"t":"3764"},{"x":3660,"y":0.08,"y2":-0.049,"t":"3663"},{"x":2921,"y":0.153,"y2":-0.03,"t":"2918"},{"x":2287,"y":0.235,"y2":-0.03,"t":"2267"},{"x":1768,"y":0.136,"y2":-0.03,"t":"1758"}],
"aDown":[{"x":2921,"y":-0.035},{"x":2287,"y":-0.035},{"x":1768,"y":-0.035}],
"aBr":[{"x":3760,"x2":3660,"y":-0.049}],
"aBrR":[{"x":3743,"y":-0.049}],
"aBrL":[{"x":3677,"y":-0.049}],
"aSp":[{"x":3695,"y":-0.07,"t":"HCO₃⁻","sp":"HCO3"},{"x":2906,"y":-0.06,"t":"HCOO⁻","sp":"HCOO"},{"x":2287,"y":-0.06,"t":"CO","sp":"CO"},{"x":1761,"y":-0.066,"t":"CO₃²⁻","sp":"CO3"}],
"bDash":[{"x":3768,"y":0.085,"y2":-0.05,"t":"3775"},{"x":3678,"y":0.062,"y2":-0.05,"t":"3678"},{"x":2267,"y":0.144,"y2":-0.026,"t":"2267"},{"x":1758,"y":0.138,"y2":-0.058,"t":"1758"},{"x":1378,"y":0.092,"y2":-0.058,"t":"1378"},{"x":1278,"y":0.09,"y2":-0.026,"t":"1285"}],
"bDown":[{"x":2267,"y":-0.03},{"x":1278,"y":-0.03}],
"bBr":[{"x":3768,"x2":3678,"y":-0.05}],
"bBrR":[{"x":3751,"y":-0.05},{"x":1732,"y":-0.058}],
"bBrL":[{"x":3695,"y":-0.05},{"x":1404,"y":-0.058}],
"bSp":[{"x":3687,"y":-0.072,"t":"HCO₃⁻","sp":"HCO3"},{"x":2275,"y":-0.061,"t":"CO","sp":"CO"},{"x":1559,"y":-0.058,"t":"CO₃²⁻","sp":"CO3"},{"x":1185,"y":-0.056,"t":"HCOO⁻","sp":"HCOO"}],
"light":[{"x":3710,"y":0.253,"y2":0.306}],
"lightHead":[{"x":3710,"y":0.309}],
"lightTxt":[{"x":3626,"y":0.318,"t":"Light-45 min"},{"x":3626,"y":0.249,"t":"Light-0 min"}],
"aName":[{"x":3954,"y":0.372,"t":"H-IO"}],
"bName":[{"x":3956,"y":0.372,"t":"Si-IO"}],
"aTag":[{"x":4363,"y":0.4,"t":"a"}],
"bTag":[{"x":4363,"y":0.4,"t":"b"}]
},
"hconcat":[
{
"width":521,"height":383,
"encoding":{
"x":{"field":"x","type":"quantitative","title":"Wavenumber (cm⁻¹)","scale":{"domain":[1000,4000],"reverse":true,"nice":false,"zero":false},"axis":{"values":[1000,1250,1500,1750,2000,2250,2500,2750,3000,3250,3500,3750,4000],"format":"d","labelExpr":"datum.value % 500 === 0 ? datum.label : ''","tickSize":{"condition":{"test":"datum.value % 500 === 0","value":7},"value":4}}},
"y":{"field":"y","type":"quantitative","title":"Absorbance (a.u.)","scale":{"domain":[-0.141,0.4],"nice":false,"zero":false},"axis":{"values":[0,0.05,0.1,0.15,0.2,0.25,0.3,0.35,0.4],"format":".1f","labelExpr":"abs(datum.value*10 - round(datum.value*10)) < 0.001 ? datum.label : ''","tickSize":{"condition":{"test":"abs(datum.value*10 - round(datum.value*10)) < 0.001","value":7},"value":4}}}
},
"layer":[
{"data":{"name":"aL"},"mark":{"type":"line","strokeWidth":2.2,"interpolate":"monotone"},"encoding":{"stroke":{"field":"k","type":"quantitative","scale":{"domain":[0,20],"range":["#e6e200","#7cc243"],"interpolate":"rgb"},"legend":null},"detail":{"field":"k","type":"nominal"}}},
{"data":{"name":"aDash"},"mark":{"type":"rule","color":"#111","strokeWidth":1.8,"strokeDash":[3,2]},"encoding":{"y2":{"field":"y2"}}},
{"data":{"name":"aDash"},"mark":{"type":"text","angle":270,"align":"left","baseline":"middle","fontSize":16,"dx":2,"color":"#222"},"encoding":{"text":{"field":"t"}}},
{"data":{"name":"aDown"},"mark":{"type":"point","shape":"M0,1L0.6,-1L-0.6,-1Z","size":100,"filled":true,"opacity":1,"color":"#111"}},
{"data":{"name":"aBr"},"mark":{"type":"rule","color":"#111","strokeWidth":2},"encoding":{"x2":{"field":"x2"}}},
{"data":{"name":"aBrR"},"mark":{"type":"point","shape":"M-1,-1L1,0L-1,1Z","size":36,"filled":true,"opacity":1,"color":"#111"}},
{"data":{"name":"aBrL"},"mark":{"type":"point","shape":"M1,-1L-1,0L1,1Z","size":36,"filled":true,"opacity":1,"color":"#111"}},
{"data":{"name":"aSp"},"mark":{"type":"text","align":"center","baseline":"middle","fontSize":17.5},"encoding":{"text":{"field":"t"},"color":{"field":"sp","type":"nominal","scale":{"domain":["HCO3","HCOO","CO","CO3"],"range":["#2ec3c8","#ec4aa0","#8b8b2c","#f8a768"]},"legend":null}}},
{"data":{"name":"light"},"mark":{"type":"rule","color":"#111","strokeWidth":1.5},"encoding":{"y2":{"field":"y2"}}},
{"data":{"name":"lightHead"},"mark":{"type":"point","shape":"M0,-1L0.5,1L-0.5,1Z","size":144,"filled":true,"opacity":1,"color":"#111"}},
{"data":{"name":"lightTxt"},"mark":{"type":"text","align":"left","baseline":"middle","fontSize":19.5,"color":"#222"},"encoding":{"text":{"field":"t"}}},
{"data":{"name":"aName"},"mark":{"type":"text","align":"left","baseline":"middle","fontSize":21,"color":"#4aa82f"},"encoding":{"text":{"field":"t"}}},
{"data":{"name":"aTag"},"mark":{"type":"text","align":"center","baseline":"middle","fontSize":22,"fontWeight":"bold","color":"#111"},"encoding":{"text":{"field":"t"}}}
]
},
{
"width":521,"height":383,
"encoding":{
"x":{"field":"x","type":"quantitative","title":"Wavenumber (cm⁻¹)","scale":{"domain":[1000,4000],"reverse":true,"nice":false,"zero":false},"axis":{"values":[1000,1250,1500,1750,2000,2250,2500,2750,3000,3250,3500,3750,4000],"format":"d","labelExpr":"datum.value % 500 === 0 ? datum.label : ''","tickSize":{"condition":{"test":"datum.value % 500 === 0","value":7},"value":4}}},
"y":{"field":"y","type":"quantitative","title":"Absorbance (a.u.)","scale":{"domain":[-0.141,0.4],"nice":false,"zero":false},"axis":{"values":[0,0.05,0.1,0.15,0.2,0.25,0.3,0.35,0.4],"format":".1f","labelExpr":"abs(datum.value*10 - round(datum.value*10)) < 0.001 ? datum.label : ''","tickSize":{"condition":{"test":"abs(datum.value*10 - round(datum.value*10)) < 0.001","value":7},"value":4}}}
},
"layer":[
{"data":{"name":"bL"},"mark":{"type":"line","strokeWidth":2.2,"interpolate":"monotone"},"encoding":{"stroke":{"field":"k","type":"quantitative","scale":{"domain":[0,20],"range":["#f7e400","#f5a325"],"interpolate":"rgb"},"legend":null},"detail":{"field":"k","type":"nominal"}}},
{"data":{"name":"bDash"},"mark":{"type":"rule","color":"#111","strokeWidth":1.8,"strokeDash":[3,2]},"encoding":{"y2":{"field":"y2"}}},
{"data":{"name":"bDash"},"mark":{"type":"text","angle":270,"align":"left","baseline":"middle","fontSize":16,"dx":2,"color":"#222"},"encoding":{"text":{"field":"t"}}},
{"data":{"name":"bDown"},"mark":{"type":"point","shape":"M0,1L0.6,-1L-0.6,-1Z","size":100,"filled":true,"opacity":1,"color":"#111"}},
{"data":{"name":"bBr"},"mark":{"type":"rule","color":"#111","strokeWidth":2},"encoding":{"x2":{"field":"x2"}}},
{"data":{"name":"bBrR"},"mark":{"type":"point","shape":"M-1,-0.8L1,0L-1,0.8Z","size":49,"filled":true,"opacity":1,"color":"#111"}},
{"data":{"name":"bBrL"},"mark":{"type":"point","shape":"M1,-0.8L-1,0L1,0.8Z","size":49,"filled":true,"opacity":1,"color":"#111"}},
{"data":{"name":"bSp"},"mark":{"type":"text","align":"center","baseline":"middle","fontSize":17.5},"encoding":{"text":{"field":"t"},"color":{"field":"sp","type":"nominal","scale":{"domain":["HCO3","HCOO","CO","CO3"],"range":["#2ec3c8","#ec4aa0","#8b8b2c","#f8a768"]},"legend":null}}},
{"data":{"name":"light"},"mark":{"type":"rule","color":"#111","strokeWidth":1.5},"encoding":{"y2":{"field":"y2"}}},
{"data":{"name":"lightHead"},"mark":{"type":"point","shape":"M0,-1L0.5,1L-0.5,1Z","size":144,"filled":true,"opacity":1,"color":"#111"}},
{"data":{"name":"lightTxt"},"mark":{"type":"text","align":"left","baseline":"middle","fontSize":19.5,"color":"#222"},"encoding":{"text":{"field":"t"}}},
{"data":{"name":"bName"},"mark":{"type":"text","align":"left","baseline":"middle","fontSize":21,"color":"#f7941d"},"encoding":{"text":{"field":"t"}}},
{"data":{"name":"bTag"},"mark":{"type":"text","align":"center","baseline":"middle","fontSize":22,"fontWeight":"bold","color":"#111"},"encoding":{"text":{"field":"t"}}}
]
}
]
}
